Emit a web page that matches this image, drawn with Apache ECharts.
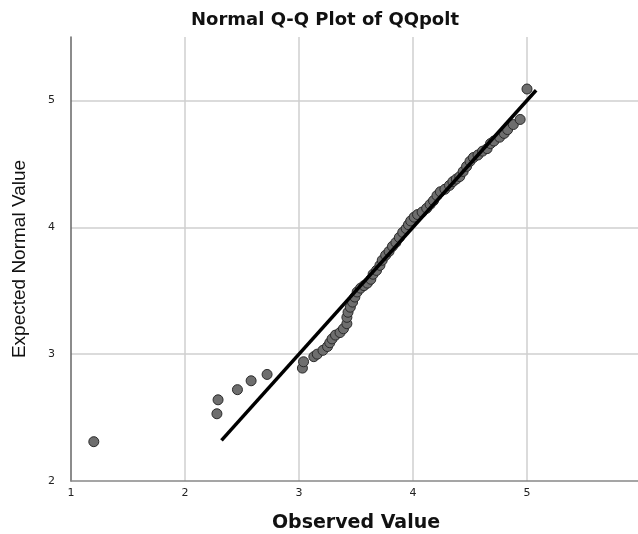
<!DOCTYPE html>
<html>
<head>
<meta charset="utf-8">
<script src="https://cdn.jsdelivr.net/npm/echarts@6/dist/echarts.min.js"></script>
<style>
  html, body { margin: 0; padding: 0; background: #fff; }
  #qq { width: 638px; height: 534px; }
</style>
</head>
<body>
<div id="qq"></div>
<script>
'use strict'
var observed = [1.20, 2.28, 2.29, 2.46, 2.58, 2.72, 3.03, 3.04, 3.13, 3.16,
    3.21, 3.25, 3.27, 3.29, 3.32, 3.36, 3.39, 3.42, 3.42, 3.43,
    3.45, 3.47, 3.49, 3.51, 3.54, 3.57, 3.60, 3.63, 3.65, 3.68,
    3.71, 3.73, 3.76, 3.79, 3.82, 3.85, 3.88, 3.91, 3.94, 3.96,
    3.98, 4.01, 4.04, 4.08, 4.12, 4.15, 4.18, 4.21, 4.24, 4.28,
    4.32, 4.35, 4.38, 4.41, 4.44, 4.47, 4.50, 4.53, 4.57, 4.61,
    4.65, 4.68, 4.71, 4.76, 4.80, 4.83, 4.88, 4.94, 5.00];
var expected = [2.31, 2.53, 2.64, 2.72, 2.79, 2.84, 2.89, 2.94, 2.98, 3.00,
    3.03, 3.06, 3.09, 3.12, 3.15, 3.17, 3.20, 3.24, 3.29, 3.33,
    3.37, 3.41, 3.45, 3.49, 3.52, 3.54, 3.56, 3.59, 3.63, 3.66,
    3.70, 3.74, 3.78, 3.81, 3.85, 3.88, 3.92, 3.96, 3.99, 4.02,
    4.05, 4.08, 4.10, 4.12, 4.15, 4.18, 4.21, 4.25, 4.28, 4.30,
    4.33, 4.36, 4.38, 4.40, 4.44, 4.48, 4.52, 4.55, 4.57, 4.60,
    4.62, 4.66, 4.68, 4.71, 4.74, 4.77, 4.81, 4.85, 5.09];
// reference line y = x
var refLine = [2.32, 5.08];

var chart = echarts.init(document.getElementById('qq'));
var points = observed.map(function (v, i) { return [v, expected[i]]; });

var option = {
    backgroundColor: '#fff',
    animation: false,
    title: {
        text: 'Normal Q-Q Plot of QQpolt',
        left: 320,
        textAlign: 'center',
        top: 6,
        textStyle: { fontFamily: 'DejaVu Sans', fontSize: 18, fontWeight: 'bold', color: '#111' }
    },
    grid: { left: 71, top: 37, width: 570, height: 444, containLabel: false, outerBoundsMode: 'none' },
    xAxis: {
        type: 'value',
        min: 1, max: 6, interval: 1,
        name: 'Observed Value',
        nameLocation: 'middle',
        nameGap: 33,
        nameTextStyle: { fontFamily: 'DejaVu Sans', fontSize: 19, fontWeight: 'bold', color: '#111' },
        axisLine: { lineStyle: { color: '#888', width: 1.5 } },
        axisTick: { show: false },
        axisLabel: { fontFamily: 'DejaVu Sans', fontSize: 11, color: '#222', margin: 7, showMaxLabel: true, hideOverlap: false },
        splitLine: { show: true, showMinLine: false, lineStyle: { color: '#cfcfcf', width: 1.5 } }
    },
    yAxis: {
        type: 'value',
        min: 2, max: 5.5, interval: 1,
        name: 'Expected Normal Value',
        nameLocation: 'middle',
        nameGap: 42,
        nameTextStyle: { fontFamily: 'Liberation Sans', fontSize: 19, color: '#111' },
        axisLine: { show: true, lineStyle: { color: '#666', width: 1.5 } },
        axisTick: { show: false },
        axisLabel: {
            fontFamily: 'DejaVu Sans', fontSize: 11, color: '#222', margin: 16,
            showMaxLabel: false
        },
        splitLine: { show: true, showMinLine: false, showMaxLine: false, lineStyle: { color: '#cfcfcf', width: 1.5 } }
    },
    series: [{
        type: 'scatter',
        data: points,
        symbolSize: 10,
        itemStyle: { color: '#6e6e6e', borderColor: '#2a2a2a', borderWidth: 1, opacity: 1 },
        z: 2
    }, {
        type: 'line',
        data: [[refLine[0], refLine[0]], [refLine[1], refLine[1]]],
        symbol: 'none',
        lineStyle: { color: '#000', width: 3.5 },
        z: 3
    }]
};
chart.setOption(option);
</script>
</body>
</html>
